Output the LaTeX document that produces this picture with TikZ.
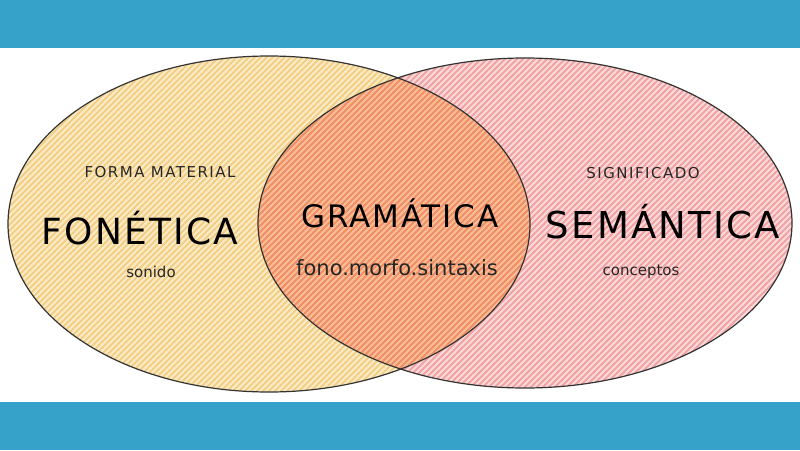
\documentclass[tikz,border=0pt]{standalone}
\usepackage{fontspec}
\setmainfont{DejaVu Sans}
\newfontfamily\sketchfont[LetterSpace=6]{DejaVu Sans}
\newfontfamily\sketchcaps[LetterSpace=10]{DejaVu Sans}
\usepackage{tikz}
\usepackage{xcolor}
\definecolor{band}{HTML}{36A2C9}
\definecolor{fonfill}{HTML}{FBEBC6}
\definecolor{fonline}{HTML}{F3CF86}
\definecolor{semfill}{HTML}{FCDADA}
\definecolor{semline}{HTML}{F1A3A3}
\definecolor{gramfill}{HTML}{F9BD98}
\definecolor{gramline}{HTML}{F08F66}
\definecolor{outline}{HTML}{333333}
\tikzset{
    venn-edge/.style = {draw=outline, line width=1.2pt},
    venn-title/.style = {font=\sketchfont\fontsize{#1}{#1}\selectfont, text=black, inner sep=0pt},
    venn-caps/.style = {font=\sketchcaps\fontsize{15}{15}\selectfont, text=black!85, inner sep=0pt},
    venn-note/.style = {font=\fontsize{15}{15}\selectfont, text=black!85, inner sep=0pt},
}

\begin{document}
\begin{tikzpicture}[x=1pt, y=-1pt]
\useasboundingbox (0,0) rectangle (800,450);
\fill[white] (0,0) rectangle (800,450);
\fill[band] (0,0) rectangle (800,48);
\fill[band] (0,402) rectangle (800,450);

% fonetica
\begin{scope}
    \clip (269,224) ellipse [x radius=261, y radius=168];
    \fill[fonfill] (0,48) rectangle (800,402);
    \foreach \i in {-400,-394,...,800}
        \draw[fonline, line width=2pt] (\i,400) -- ++(360,-360);
\end{scope}
% semantica
\begin{scope}
    \clip (525,223) ellipse [x radius=267, y radius=165];
    \fill[semfill] (0,48) rectangle (800,402);
    \foreach \i in {-400,-394,...,800}
        \draw[semline, line width=2pt] (\i,400) -- ++(360,-360);
\end{scope}
% gramatica (overlap)
\begin{scope}
    \clip (269,224) ellipse [x radius=261, y radius=168];
    \clip (525,223) ellipse [x radius=267, y radius=165];
    \fill[gramfill] (0,48) rectangle (800,402);
    \foreach \i in {-400,-394,...,800}
        \draw[gramline, line width=2pt] (\i,400) -- ++(360,-360);
\end{scope}
\draw[venn-edge] (269,224) ellipse [x radius=261, y radius=168];
\draw[venn-edge] (525,223) ellipse [x radius=267, y radius=165];

\node[venn-caps] (forma) at (160,172) {FORMA MATERIAL};
\node[venn-title=36] (fonetica) at (140,228) {FONÉTICA};
\node[venn-note] (sonido) at (151,272) {sonido};

\node[venn-title=31] (gramatica) at (400,213) {GRAMÁTICA};
\node[venn-note, font=\fontsize{21}{21}\selectfont] (fms) at (397,268) {fono.morfo.sintaxis};

\node[venn-caps] (significado) at (643,173) {SIGNIFICADO};
\node[venn-title=37] (semantica) at (663,222) {SEMÁNTICA};
\node[venn-note] (conceptos) at (641,272) {conceptos};
\end{tikzpicture}
\end{document}
